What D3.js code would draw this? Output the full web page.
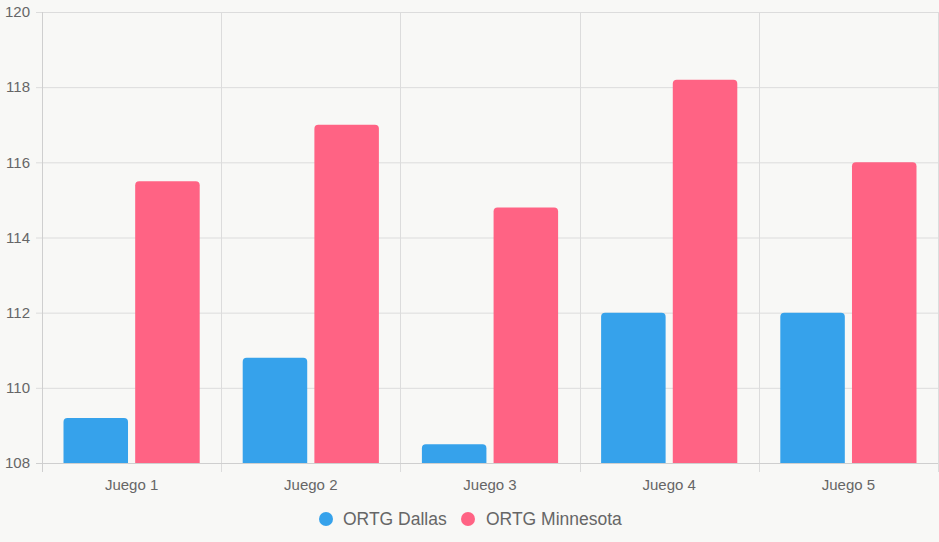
<!DOCTYPE html>
<html><head><meta charset="utf-8">
<script src="https://cdn.jsdelivr.net/npm/d3@7"></script>
<style>html,body{margin:0;padding:0;background:#f8f8f6;}svg{display:block;font-family:"Liberation Sans",Arial,sans-serif;}</style>
</head><body>
<svg id="c" width="939" height="542"></svg>
<script>
const categories = ["Juego 1","Juego 2","Juego 3","Juego 4","Juego 5"];
const seriesNames = ["ORTG Dallas","ORTG Minnesota"];
const dallas = [109.2,110.8,108.5,112,112];
const minnesota = [115.5,117,114.8,118.2,116];
const yTicks = [108,110,112,114,116,118,120];
const colors = ["#36A2EB","#FF6384"];

const svg = d3.select("#c");
const L=42, R=938, T=12, B=463;
const x = d3.scaleBand().domain(categories).range([L,R]).paddingInner(0).paddingOuter(0);
const y = d3.scaleLinear().domain([108,120]).range([B,T]);
const grid = "#dcdcdc";

// horizontal grid
svg.append("g").selectAll("line").data(yTicks).join("line")
  .attr("x1",L-6).attr("x2",R).attr("y1",d=>y(d)+0.5).attr("y2",d=>y(d)+0.5)
  .attr("stroke",grid);
// vertical grid
const vx = categories.map(c=>x(c)).concat([R]);
svg.append("g").selectAll("line").data(vx).join("line")
  .attr("x1",d=>Math.round(d)+0.5).attr("x2",d=>Math.round(d)+0.5).attr("y1",T).attr("y2",B+9)
  .attr("stroke",grid);
// axis lines darker
svg.append("line").attr("x1",L+0.5).attr("x2",L+0.5).attr("y1",T).attr("y2",B+9).attr("stroke","#cfcfcf");
svg.append("line").attr("x1",L-6).attr("x2",R).attr("y1",B+0.5).attr("y2",B+0.5).attr("stroke","#cfcfcf");

// y labels
svg.append("g").selectAll("text").data(yTicks).join("text")
  .attr("x",L-12).attr("y",d=>y(d)).attr("dy","0.35em").attr("text-anchor","end")
  .attr("font-size",15).attr("fill","#666").text(d=>d);
// x labels
svg.append("g").selectAll("text").data(categories).join("text")
  .attr("x",d=>x(d)+x.bandwidth()/2).attr("y",B+22).attr("dy","0.35em").attr("text-anchor","middle")
  .attr("font-size",15).attr("fill","#666").text(d=>d);

const inner = d3.scaleBand().domain([0,1]).range([0,x.bandwidth()*0.8]);
const barW = inner.bandwidth()*0.9;
function roundTop(x0,y0,w,h,r){
  r=Math.min(r,h,w/2);
  return `M${x0},${y0+h}V${y0+r}Q${x0},${y0} ${x0+r},${y0}H${x0+w-r}Q${x0+w},${y0} ${x0+w},${y0+r}V${y0+h}Z`;
}
const series=[dallas,minnesota];
series.forEach((vals,si)=>{
  svg.append("g").selectAll("path").data(vals).join("path")
    .attr("d",(v,i)=>{
      const cx = x(categories[i]) + x.bandwidth()*0.1 + inner(si) + (inner.bandwidth()-barW)/2;
      return roundTop(cx,y(v),barW,y(108)-y(v),4);
    })
    .attr("fill",colors[si]);
});

// legend
const lg = svg.append("g");
const items=[{n:seriesNames[0],c:colors[0],cx:326,tx:343},{n:seriesNames[1],c:colors[1],cx:468,tx:486}];
items.forEach(it=>{
  lg.append("circle").attr("cx",it.cx).attr("cy",519).attr("r",7).attr("fill",it.c);
  lg.append("text").attr("x",it.tx).attr("y",519).attr("dy","0.35em").attr("font-size",17.5).attr("fill","#666").text(it.n);
});
</script>
</body></html>
